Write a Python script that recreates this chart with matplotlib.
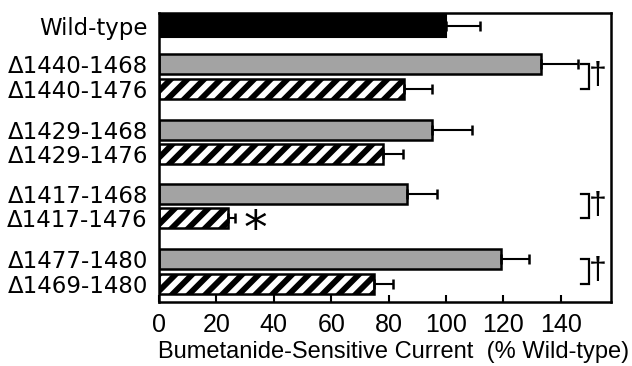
import numpy as np
import matplotlib.pyplot as plt

plt.rcParams['hatch.linewidth'] = 4.2

# constructs, top to bottom
labels = ['Wild-type',
          '\u03941440-1468', '\u03941440-1476',
          '\u03941429-1468', '\u03941429-1476',
          '\u03941417-1468', '\u03941417-1476',
          '\u03941477-1480', '\u03941469-1480']
current = [100, 133, 85.5, 95, 78, 86.5, 24, 119, 75]
sem = [12, 13, 9.5, 14, 7, 10.5, 2.5, 10, 6.5]
kind = ['wt', 'gray', 'hatch', 'gray', 'hatch', 'gray', 'hatch', 'gray', 'hatch']

# pairs marked with a dagger (indices into labels), and the asterisk
dagger_pairs = [(1, 2), (5, 6), (7, 8)]
star_index = 6

# vertical layout (groups of two)
ypos = np.array([0, 1.52, 2.52, 4.16, 5.12, 6.72, 7.68, 9.32, 10.32])

fig = plt.figure(figsize=(6.32, 3.66), dpi=100)
ax = fig.add_axes([0.2516, 0.175, 0.7152, 0.7895])

for y, v, k in zip(ypos, current, kind):
    if k == 'wt':
        ax.barh(y, v, height=0.85, color='black', edgecolor='black', linewidth=1.5)
    elif k == 'gray':
        ax.barh(y, v, height=0.8, color='#a3a3a3', edgecolor='black', linewidth=1.8)
    else:
        ax.barh(y, v, height=0.8, color='white', edgecolor='black', linewidth=1.8,
                hatch='//')

ax.errorbar(current, ypos, xerr=[np.zeros(len(sem)), sem], fmt='none',
            ecolor='black', elinewidth=1.5, capsize=3.5, capthick=1.8)

# significance brackets with daggers
for a, b in dagger_pairs:
    ya, yb = ypos[a], ypos[b]
    ax.plot([147.0, 149.8, 149.8, 147.0], [ya, ya, yb, yb], color='black',
            lw=1.6, solid_joinstyle='miter', clip_on=False)
    ax.text(153.0, (ya + yb) / 2, '\u2020', fontsize=23, ha='center', va='center',
            family='Liberation Sans')

ax.text(current[star_index] + 9.5, ypos[star_index] + 0.5, '*', fontsize=34,
        ha='center', va='center', family='DejaVu Sans')

ax.set_xlim(0, 157.5)
ax.set_ylim(11.04, -0.52)
ax.set_xticks(np.arange(0, 141, 20))
ax.tick_params(axis='x', direction='in', length=5, width=1.5, pad=8, labelsize=18)
for t in ax.get_xticklabels():
    t.set_family('Liberation Sans')
ax.set_yticks(ypos)
ax.set_yticklabels(labels, fontsize=16.5, family='DejaVu Sans')
ax.tick_params(axis='y', length=0, pad=8)

for s in ax.spines.values():
    s.set_linewidth(1.8)

ax.set_xlabel('Bumetanide-Sensitive Current  (% Wild-type)', fontsize=17,
              family='Liberation Sans')
ax.xaxis.set_label_coords(0.52, -0.135)

fig.savefig('out.png', dpi=100)
